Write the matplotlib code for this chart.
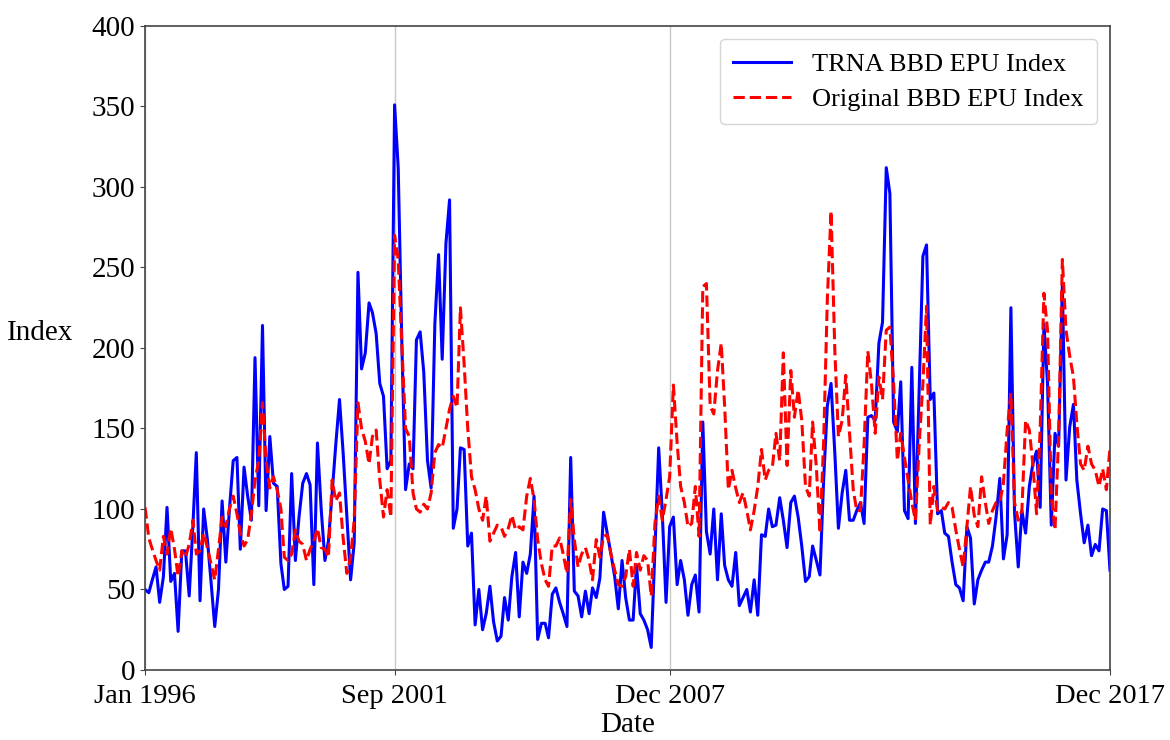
import numpy as np
import pandas as pd
import matplotlib
matplotlib.use("Agg")
import matplotlib.pyplot as plt

trna = [50, 48, 56, 64, 42, 58, 101, 55, 60, 24, 74, 74, 46, 90, 135, 43, 100, 81, 55, 27,
        50, 105, 67, 100, 130, 132, 75, 126, 108, 93, 194, 102, 214, 99, 145, 116, 114, 66, 50, 52,
        122, 68, 95, 116, 122, 115, 53, 141, 100, 68, 80, 110, 140, 168, 135, 95, 56, 79, 247, 187,
        197, 228, 222, 209, 178, 170, 125, 130, 351, 312, 200, 112, 128, 125, 205, 210, 185, 130, 113, 215,
        258, 193, 265, 292, 88, 100, 138, 137, 77, 85, 28, 50, 25, 35, 52, 30, 18, 21, 45, 31,
        58, 73, 33, 67, 60, 72, 108, 19, 29, 29, 20, 47, 51, 42, 35, 27, 132, 49, 46, 33,
        49, 35, 51, 45, 57, 98, 85, 72, 58, 38, 68, 45, 31, 31, 65, 35, 31, 25, 14, 75,
        138, 97, 42, 89, 95, 53, 68, 56, 34, 53, 59, 36, 154, 86, 72, 100, 56, 97, 65, 56,
        52, 73, 40, 45, 50, 36, 56, 34, 84, 83, 100, 89, 90, 107, 93, 76, 104, 108, 95, 77,
        55, 58, 77, 68, 59, 119, 164, 178, 135, 88, 110, 124, 93, 93, 99, 104, 91, 157, 158, 155,
        203, 216, 312, 296, 154, 148, 179, 99, 94, 188, 91, 175, 257, 264, 168, 172, 97, 99, 85, 83,
        67, 53, 51, 43, 89, 82, 41, 56, 62, 67, 67, 77, 95, 119, 69, 84, 225, 98, 64, 99,
        85, 114, 128, 136, 101, 215, 178, 90, 147, 139, 240, 118, 151, 165, 118, 97, 79, 90, 71, 78,
        74, 100, 99, 62]

original = [101, 82, 75, 68, 62, 83, 72, 88, 75, 58, 74, 70, 78, 93, 72, 74, 85, 76, 66, 56,
            75, 95, 89, 100, 108, 97, 85, 77, 81, 97, 118, 130, 166, 130, 113, 120, 112, 100, 70, 68,
            72, 87, 80, 78, 68, 75, 80, 88, 76, 75, 70, 118, 105, 110, 82, 60, 70, 93, 166, 150,
            142, 128, 145, 149, 118, 95, 112, 95, 270, 255, 200, 150, 145, 110, 100, 98, 103, 100, 110, 135,
            140, 138, 150, 162, 170, 163, 225, 190, 150, 120, 112, 100, 93, 108, 80, 85, 90, 89, 83, 88,
            96, 87, 89, 87, 108, 119, 106, 81, 66, 56, 52, 77, 77, 82, 72, 60, 106, 81, 64, 72,
            76, 68, 56, 81, 70, 83, 84, 72, 62, 53, 52, 58, 75, 52, 73, 62, 71, 68, 46, 91,
            108, 93, 106, 120, 177, 141, 114, 104, 89, 91, 114, 83, 238, 240, 164, 159, 186, 203, 164, 112,
            124, 113, 104, 110, 99, 87, 99, 114, 137, 118, 124, 126, 147, 130, 197, 127, 186, 157, 174, 155,
            114, 108, 154, 126, 85, 143, 230, 285, 199, 145, 155, 183, 147, 112, 99, 99, 140, 198, 178, 147,
            182, 168, 211, 213, 178, 130, 147, 132, 118, 104, 93, 140, 178, 226, 90, 114, 99, 101, 100, 104,
            101, 87, 75, 64, 89, 114, 96, 89, 120, 104, 91, 99, 104, 104, 116, 149, 172, 104, 93, 99,
            155, 149, 128, 97, 150, 234, 211, 108, 87, 145, 255, 211, 195, 182, 153, 128, 124, 139, 128, 124,
            114, 125, 112, 138]

tick_dates = ["1996-01-01", "2001-09-01", "2007-12-01", "2017-12-01"]
tick_labels = ["Jan 1996", "Sep 2001", "Dec 2007", "Dec 2017"]
yticks = list(range(0, 401, 50))

dates = pd.date_range("1996-01-01", periods=len(trna), freq="MS")

plt.rcParams['font.family'] = ['Liberation Serif', 'DejaVu Serif']

fig = plt.figure(figsize=(11.7, 7.4), dpi=100)
ax = fig.add_axes([0.124, 0.0946, 0.8247, 0.8703])

ax.plot(dates, trna, color="blue", lw=2.2, label="TRNA BBD EPU Index")
ax.plot(dates, original, color="red", lw=2.2, ls="--", label="Original BBD EPU Index")

tdates = pd.to_datetime(tick_dates)
ax.set_xticks(tdates)
ax.set_xticklabels(tick_labels, fontsize=20.5)
ax.set_xlim(dates[0], dates[-1])
ax.xaxis.grid(True, color="#c8c8c8", lw=1)
ax.set_ylim(0, 400)
ax.set_yticks(yticks)
ax.tick_params(axis="y", labelsize=21, color="#444444")
ax.tick_params(axis="x", pad=6.5, color="#444444")
for s in ax.spines.values():
    s.set_color("#444444")
    s.set_linewidth(1.2)
ax.set_xlabel("Date", fontsize=21, labelpad=2)
ax.set_ylabel("Index", fontsize=21, rotation=0, ha="center", va="center")
ax.yaxis.set_label_coords(-0.109, 0.523)

leg = ax.legend(loc="upper right", fontsize=19, frameon=True, fancybox=True,
                edgecolor="#cccccc", handlelength=2.2, borderpad=0.5,
                labelspacing=0.45, borderaxespad=0.5)
leg.get_frame().set_linewidth(1.0)

fig.savefig("out.png", dpi=100)
